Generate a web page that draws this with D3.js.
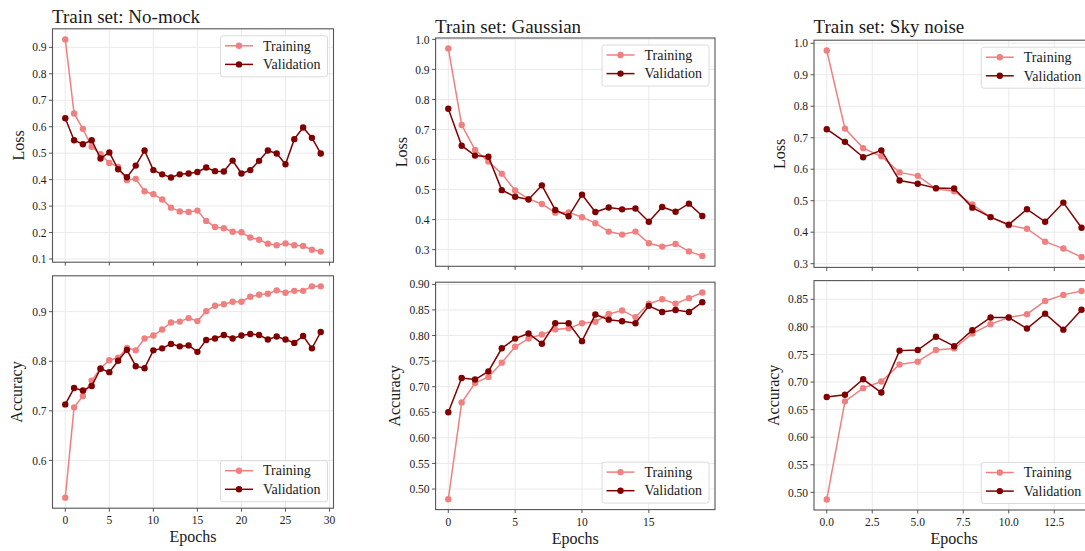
<!DOCTYPE html>
<html>
<head>
<meta charset="utf-8">
<script src="https://cdn.jsdelivr.net/npm/d3@7"></script>
<style>
  body { margin: 0; background: #fff; }
  svg { display: block; }
  text { font-family: "Liberation Serif", "DejaVu Serif", serif; fill: #1a1a1a; }
</style>
</head>
<body>
<svg id="chart" width="1085" height="551"></svg>
<script>
// ---- Training histories (one value per epoch) ----
const noMockLossTrain = [0.930, 0.650, 0.592, 0.524, 0.496, 0.463, 0.448, 0.398, 0.403, 0.356,
  0.345, 0.325, 0.294, 0.280, 0.278, 0.283, 0.244, 0.221, 0.216, 0.203,
  0.201, 0.181, 0.173, 0.158, 0.152, 0.159, 0.152, 0.149, 0.135, 0.128];
const noMockLossVal = [0.632, 0.549, 0.534, 0.549, 0.480, 0.503, 0.439, 0.409, 0.453, 0.510,
  0.436, 0.420, 0.408, 0.420, 0.423, 0.429, 0.446, 0.432, 0.431, 0.472,
  0.423, 0.436, 0.471, 0.510, 0.499, 0.458, 0.553, 0.597, 0.558, 0.499];
const noMockAccTrain = [0.525, 0.707, 0.730, 0.761, 0.786, 0.802, 0.807, 0.827, 0.822, 0.846,
  0.852, 0.864, 0.878, 0.880, 0.887, 0.881, 0.901, 0.912, 0.915, 0.920,
  0.920, 0.930, 0.934, 0.936, 0.943, 0.938, 0.942, 0.942, 0.951, 0.951];
const noMockAccVal = [0.713, 0.746, 0.741, 0.750, 0.785, 0.778, 0.801, 0.823, 0.790, 0.786,
  0.822, 0.826, 0.835, 0.830, 0.832, 0.819, 0.843, 0.846, 0.853, 0.846,
  0.852, 0.855, 0.853, 0.844, 0.850, 0.844, 0.837, 0.851, 0.826, 0.859];

const gaussLossTrain = [0.970, 0.715, 0.632, 0.593, 0.553, 0.497, 0.469, 0.452, 0.423, 0.424,
  0.408, 0.388, 0.360, 0.350, 0.360, 0.321, 0.310, 0.319, 0.294, 0.279];
const gaussLossVal = [0.769, 0.646, 0.613, 0.609, 0.498, 0.476, 0.467, 0.514, 0.432, 0.411,
  0.483, 0.425, 0.440, 0.434, 0.437, 0.393, 0.442, 0.426, 0.453, 0.412];
const gaussAccTrain = [0.480, 0.669, 0.707, 0.719, 0.747, 0.778, 0.794, 0.802, 0.812, 0.814,
  0.824, 0.827, 0.842, 0.849, 0.836, 0.862, 0.871, 0.862, 0.873, 0.884];
const gaussAccVal = [0.650, 0.717, 0.714, 0.730, 0.775, 0.794, 0.804, 0.784, 0.824, 0.824,
  0.789, 0.841, 0.831, 0.828, 0.824, 0.858, 0.846, 0.850, 0.846, 0.865];

const skyLossTrain = [0.977, 0.729, 0.667, 0.641, 0.590, 0.579, 0.538, 0.530, 0.488, 0.448,
  0.422, 0.411, 0.370, 0.348, 0.321];
const skyLossVal = [0.727, 0.687, 0.638, 0.660, 0.564, 0.554, 0.540, 0.539, 0.478, 0.448,
  0.424, 0.473, 0.433, 0.494, 0.414];
const skyAccTrain = [0.487, 0.665, 0.689, 0.701, 0.732, 0.737, 0.758, 0.761, 0.788, 0.805,
  0.817, 0.823, 0.847, 0.858, 0.865];
const skyAccVal = [0.673, 0.677, 0.705, 0.681, 0.757, 0.758, 0.782, 0.765, 0.794, 0.817,
  0.817, 0.797, 0.824, 0.795, 0.831];

// ---- Tick values ----
const noMockEpochTicks = [0, 5, 10, 15, 20, 25, 30];
const gaussEpochTicks = [0, 5, 10, 15];
const skyEpochTicks = [0, 2.5, 5, 7.5, 10, 12.5, 15];
const noMockLossTicks = [0.1, 0.2, 0.3, 0.4, 0.5, 0.6, 0.7, 0.8, 0.9];
const noMockAccTicks = [0.6, 0.7, 0.8, 0.9];
const gaussLossTicks = [0.3, 0.4, 0.5, 0.6, 0.7, 0.8, 0.9, 1.0];
const gaussAccTicks = [0.50, 0.55, 0.60, 0.65, 0.70, 0.75, 0.80, 0.85, 0.90];
const skyLossTicks = [0.3, 0.4, 0.5, 0.6, 0.7, 0.8, 0.9, 1.0];
const skyAccTicks = [0.50, 0.55, 0.60, 0.65, 0.70, 0.75, 0.80, 0.85];

const seriesNames = ["Training", "Validation"];
const seriesColors = ["#f08080", "#800000"];

// ---- Layout of the three columns ----
const columns = [
  { title: "Train set: No-mock", x0: 52.5, x1: 333.5,
    lossBox: [28.8, 262.2], accBox: [275.8, 508.2],
    lossLabelOff: 34, accLabelOff: 36,
    loss: [noMockLossTrain, noMockLossVal], acc: [noMockAccTrain, noMockAccVal],
    xTicks: noMockEpochTicks, xFmt: d3.format("d"),
    lossTicks: noMockLossTicks, lossFmt: d3.format(".1f"),
    accTicks: noMockAccTicks, accFmt: d3.format(".1f"),
    titleY: 23 },
  { title: "Train set: Gaussian", x0: 435.6, x1: 715,
    lossBox: [38, 266.3], accBox: [282.2, 509.6],
    lossLabelOff: 34, accLabelOff: 40.5,
    loss: [gaussLossTrain, gaussLossVal], acc: [gaussAccTrain, gaussAccVal],
    xTicks: gaussEpochTicks, xFmt: d3.format("d"),
    lossTicks: gaussLossTicks, lossFmt: d3.format(".1f"),
    accTicks: gaussAccTicks, accFmt: d3.format(".2f"),
    titleY: 32.5 },
  { title: "Train set: Sky noise", x0: 814, x1: 1094.3,
    lossBox: [40.2, 267.4], accBox: [280.6, 510],
    lossLabelOff: 34, accLabelOff: 40.5,
    loss: [skyLossTrain, skyLossVal], acc: [skyAccTrain, skyAccVal],
    xTicks: skyEpochTicks, xFmt: d3.format(".1f"),
    lossTicks: skyLossTicks, lossFmt: d3.format(".1f"),
    accTicks: skyAccTicks, accFmt: d3.format(".2f"),
    titleY: 32.5 }
];

const svg = d3.select("#chart");

// 5% margins around the data on both axes
function paddedExtent(arrays) {
  const all = arrays.flat();
  const lo = d3.min(all), hi = d3.max(all);
  const m = (hi - lo) * 0.05;
  return [lo - m, hi + m];
}

function drawAxes(col, box, series, yTicks, yFmt, yLabel, labelOff, showXLabels, legendPos) {
  const n = series[0].length;
  const x = d3.scaleLinear().domain([-(n - 1) * 0.05, (n - 1) * 1.05]).range([col.x0, col.x1]);
  const y = d3.scaleLinear().domain(paddedExtent(series)).range([box[1], box[0]]);
  const g = svg.append("g");

  const xT = col.xTicks.filter(t => x(t) >= col.x0 - 0.01 && x(t) <= col.x1 + 0.01);
  const yT = yTicks.filter(t => y(t) >= box[0] - 0.01 && y(t) <= box[1] + 0.01);

  // grid
  g.append("g").selectAll("line").data(xT).join("line")
    .attr("x1", d => x(d)).attr("x2", d => x(d))
    .attr("y1", box[0]).attr("y2", box[1])
    .attr("stroke", "#e8e8e8").attr("stroke-width", 0.9);
  g.append("g").selectAll("line").data(yT).join("line")
    .attr("x1", col.x0).attr("x2", col.x1)
    .attr("y1", d => y(d)).attr("y2", d => y(d))
    .attr("stroke", "#e8e8e8").attr("stroke-width", 0.9);

  // series: line with round markers
  series.forEach((vals, si) => {
    const line = d3.line().x((d, i) => x(i)).y(d => y(d));
    g.append("path").datum(vals)
      .attr("d", line).attr("fill", "none")
      .attr("stroke", seriesColors[si]).attr("stroke-width", 1.5);
    g.append("g").selectAll("circle").data(vals).join("circle")
      .attr("cx", (d, i) => x(i)).attr("cy", d => y(d)).attr("r", 3.2)
      .attr("fill", seriesColors[si]);
  });

  // frame
  g.append("rect").attr("x", col.x0).attr("y", box[0])
    .attr("width", col.x1 - col.x0).attr("height", box[1] - box[0])
    .attr("fill", "none").attr("stroke", "#555").attr("stroke-width", 1.1);

  // y ticks
  yT.forEach(t => {
    g.append("line").attr("x1", col.x0 - 3.5).attr("x2", col.x0)
      .attr("y1", y(t)).attr("y2", y(t)).attr("stroke", "#444").attr("stroke-width", 0.9);
    g.append("text").attr("x", col.x0 - 6).attr("y", y(t)).attr("dy", "0.36em")
      .attr("text-anchor", "end").attr("font-size", 11.5).text(yFmt(t));
  });

  // x ticks (labels only on the lower panel)
  xT.forEach(t => {
    g.append("line").attr("x1", x(t)).attr("x2", x(t))
      .attr("y1", box[1]).attr("y2", box[1] + 3.5).attr("stroke", "#444").attr("stroke-width", 0.9);
    if (showXLabels) {
      g.append("text").attr("x", x(t)).attr("y", box[1] + 16)
        .attr("text-anchor", "middle").attr("font-size", 11.5).text(col.xFmt(t));
    }
  });
  if (showXLabels) {
    g.append("text").attr("x", (col.x0 + col.x1) / 2).attr("y", box[1] + 34)
      .attr("text-anchor", "middle").attr("font-size", 16).text("Epochs");
  }

  // y label
  const ly = (box[0] + box[1]) / 2;
  g.append("text").attr("transform", `translate(${col.x0 - labelOff},${ly}) rotate(-90)`)
    .attr("text-anchor", "middle").attr("dy", "0.32em").attr("font-size", 16).text(yLabel);

  // legend
  const lw = 107, lh = 41, pad = 6;
  const lx = col.x1 - pad - lw;
  const ly0 = legendPos === "top" ? box[0] + 7 : box[1] - 6.5 - lh;
  const lg = g.append("g").attr("transform", `translate(${lx},${ly0})`);
  lg.append("rect").attr("width", lw).attr("height", lh).attr("rx", 2.5)
    .attr("fill", "#fff").attr("fill-opacity", 0.85)
    .attr("stroke", "#d6d6d6").attr("stroke-width", 0.9);
  seriesNames.forEach((name, si) => {
    const ry = 10 + si * 18.6;
    lg.append("line").attr("x1", 4.5).attr("x2", 32.5).attr("y1", ry).attr("y2", ry)
      .attr("stroke", seriesColors[si]).attr("stroke-width", 1.5);
    lg.append("circle").attr("cx", 18.5).attr("cy", ry).attr("r", 3.2).attr("fill", seriesColors[si]);
    lg.append("text").attr("x", 42.5).attr("y", ry).attr("dy", "0.34em")
      .attr("font-size", 14).text(name);
  });
}

columns.forEach(col => {
  svg.append("text").attr("x", col.x0 - 0.5).attr("y", col.titleY)
    .attr("font-size", 19).text(col.title);
  drawAxes(col, col.lossBox, col.loss, col.lossTicks, col.lossFmt, "Loss", col.lossLabelOff, false, "top");
  drawAxes(col, col.accBox, col.acc, col.accTicks, col.accFmt, "Accuracy", col.accLabelOff, true, "bottom");
});
</script>
</body>
</html>
